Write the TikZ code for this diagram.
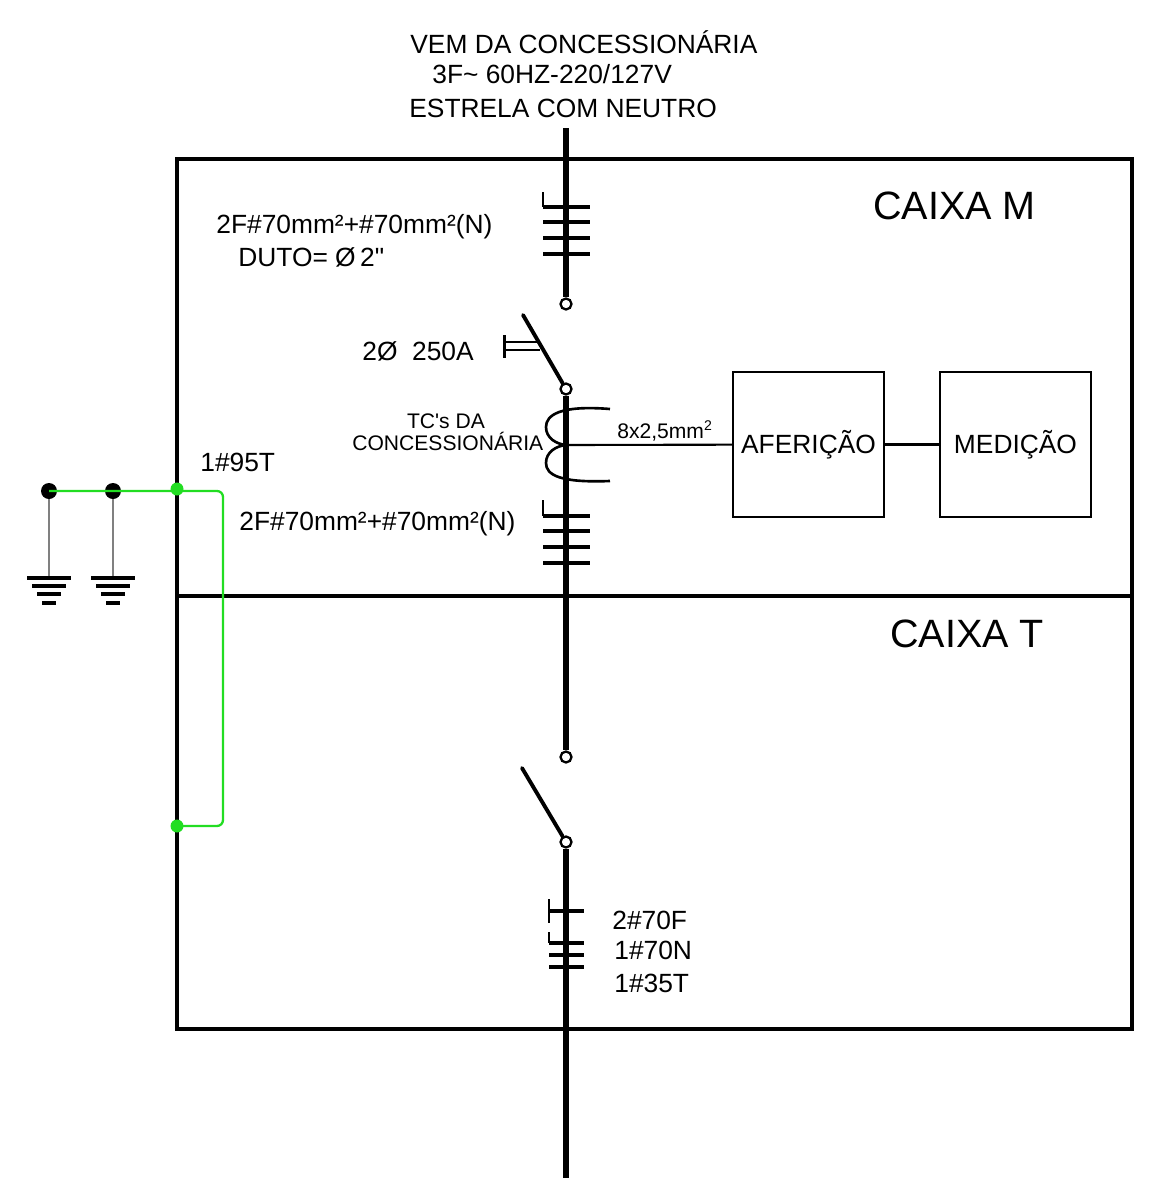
\documentclass[tikz,border=0pt]{standalone}
\usepackage{fontspec}
\setmainfont{Liberation Sans}
\usetikzlibrary{positioning}
\definecolor{verdeterra}{RGB}{34,221,34}

\begin{document}
\begin{tikzpicture}[x=0.02cm,y=-0.02cm,
    every node/.style={inner sep=0pt},
    txt/.style={anchor=base west,font=\fontsize{15}{18}\selectfont},
    miudo/.style={anchor=base west,font=\fontsize{12}{14}\selectfont},
    titulo/.style={anchor=base west,font=\fontsize{22.5}{26}\selectfont},
    borne/.style={circle,draw,fill=white,line width=1.3pt,minimum size=0.22cm},
    fase/.style={line width=2.9pt},
    faca/.style={line width=2.2pt,line cap=round},
    traco/.style={line width=2pt},
    gancho/.style={line width=1.3pt},
    quadro/.style={line width=1.9pt},
    caixa/.style={draw,line width=1.4pt,minimum width=3.02cm,minimum height=2.9cm,font=\fontsize{15}{18}\selectfont},
    aterr/.style={draw=verdeterra,line width=1.3pt,rounded corners=0.12cm},
    haste/.style={draw=gray,line width=0.7pt}]

    \useasboundingbox (0,0) rectangle (1151,1183);

    \node[txt] (vem) at (410,53.5) {VEM DA CONCESSIONÁRIA};
    \node[txt] (tens) at (432,83.5) {3F\textasciitilde\ 60HZ-220/127V};
    \node[txt] (estr) at (409,117.5) {ESTRELA COM NEUTRO};

    \draw[quadro] (177,159) rectangle (1132,1029);
    \draw[quadro] (177,596) -- (1132,596);
    \node[titulo] (cxm) at (873,219) {CAIXA M};
    \node[titulo] (cxt) at (890,647) {CAIXA T};

    \coordinate (entrada) at (566,128);
    \node[borne] (s1a) at (566,304) {};
    \node[borne] (s1b) at (566,389) {};
    \node[borne] (s2a) at (566,757) {};
    \node[borne] (s2b) at (566,842) {};
    \coordinate (saida) at (566,1178);
    \coordinate (f1) at (523,315);
    \coordinate (f2) at (522,768);
    \coordinate (tc) at (566,445);

    \draw[fase] (entrada) -- (s1a);
    \draw[fase] (s1b) -- (s2a);
    \draw[fase] (s2b) -- (saida);
    \draw[faca] (s1b) -- (f1);
    \draw[faca] (s2b) -- (f2);

    % condutores
    \draw[gancho] (543,192) -- (543,207);
    \foreach \y in {207,222,238,254}
      \draw[traco] (543,\y) -- (590,\y);
    \draw[gancho] (543,500) -- (543,516);
    \foreach \y in {516,531,547,563}
      \draw[traco] (543,\y) -- (590,\y);
    \draw[gancho] (549,899) -- (549,923) (549,932) -- (549,943);
    \foreach \y in {911,943,955,967}
      \draw[traco] (549,\y) -- (584,\y);

    \node[txt] (cab1) at (216,233) {2F\#70mm²+\#70mm²(N)};
    \node[txt] (duto) at (238,266) {DUTO= Ø\,2\textquotedbl};
    \node[txt] (cab2) at (239,530.5) {2F\#70mm²+\#70mm²(N)};
    \node[txt] (cab3) at (612,929.5) {2\#70F};
    \node[txt] (cab4) at (614,959.5) {1\#70N};
    \node[txt] (cab5) at (614,992.5) {1\#35T};

    % disjuntor
    \draw[gancho] (505,342) -- (540,342) (505,350) -- (540,350);
    \draw[line width=1.7pt] (504,335) -- (504,358);
    \node[txt] (disj) at (362,360) {2Ø\ \ 250A};

    % TC
    \draw[line width=1.5pt] (610,409) .. controls (560,405) and (546,415) .. (546,427)
      .. controls (546,438) and (556,444) .. (tc);
    \draw[line width=1.5pt] (tc) .. controls (556,446) and (546,452) .. (546,463)
      .. controls (546,475) and (560,483) .. (610,481);
    \node[miudo,anchor=base] (tc1) at (446,428.5) {TC\textquotesingle s DA};
    \node[miudo] (tc2) at (352,450) {CONCESSIONÁRIA};

    \node[caixa] (afer) at (808.5,444.5) {AFERIÇÃO};
    \node[caixa,right=4.14cm of afer.center,anchor=center] (med) {MEDIÇÃO};
    \draw[line width=1.2pt] (tc) -- (afer);
    \draw[line width=1.2pt] (afer) -- (med);
    \node[miudo] (bit) at (617,438) {8x2,5mm\textsuperscript{2}};

    % aterramento
    \foreach \gx/\nome in {49/h1,113/h2}{
      \node[circle,fill,minimum size=0.32cm] (\nome) at (\gx,491) {};
      \coordinate (t\nome) at (\gx,578);
      \draw[haste] (\nome) -- (t\nome);
      \draw[traco] (\gx-22,578) -- (\gx+22,578);
      \draw[traco] (\gx-17,586) -- (\gx+17,586);
      \draw[traco] (\gx-12,594) -- (\gx+12,594);
      \draw[traco] (\gx-7,603) -- (\gx+7,603);
    }
    \coordinate (ga) at (177,489);
    \coordinate (gb) at (177,826);
    \draw[aterr] (h1.center) -- (223,491) -- (223,826) -- (gb);
    \fill[verdeterra] (ga) circle (0.13cm);
    \fill[verdeterra] (gb) circle (0.13cm);
    \node[txt] (t95) at (200,471.5) {1\#95T};
\end{tikzpicture}
\end{document}
